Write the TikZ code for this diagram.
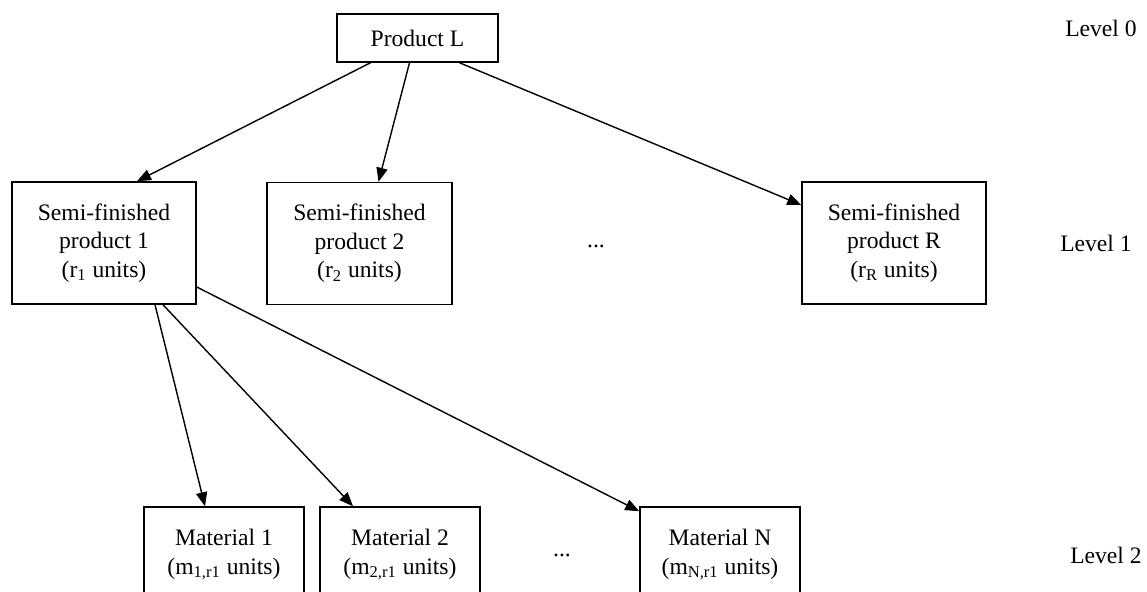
\documentclass[tikz,border=0pt]{standalone}
\usepackage{fontspec}
\setmainfont{Liberation Serif}
\usetikzlibrary{arrows.meta,calc}
\tikzset{
  box/.style={draw,line width=0.75pt,inner sep=0pt,align=center,font=\fontsize{11.8}{14.2}\selectfont},
  lbl/.style={inner sep=0pt,font=\fontsize{11.8}{14.2}\selectfont},
  conn/.style={line width=0.7pt,-{Triangle[length=7pt,width=5.6pt]}}
}
\begin{document}
\begin{tikzpicture}[x=0.5pt,y=-0.5pt]
\clip (0,0) rectangle (1147,592);
\fill[white] (0,0) rectangle (1147,592);
% level 0
\node[box,minimum width=80.5pt,minimum height=24pt] (PL) at (417.5,38) {Product L};
% level 1
\node[box,minimum width=92pt,minimum height=61pt] (S1) at (104,243) {Semi-finished\\product 1\\(r\textsubscript{1} units)};
\node[box,minimum width=92.5pt,minimum height=61pt] (S2) at (359.5,243.5) {Semi-finished\\product 2\\(r\textsubscript{2} units)};
\node[box,minimum width=92pt,minimum height=61pt] (SR) at (894,243) {Semi-finished\\product R\\(r\textsubscript{R} units)};
\node[lbl] (D1) at (596,246) {...};
% level 2
\node[box,minimum width=80pt,minimum height=48pt] (M1) at (224,555) {Material 1\\(m\textsubscript{1,r1} units)};
\node[box,minimum width=80pt,minimum height=48pt] (M2) at (400,555) {Material 2\\(m\textsubscript{2,r1} units)};
\node[box,minimum width=80pt,minimum height=48pt] (MN) at (720,555) {Material N\\(m\textsubscript{N,r1} units)};
\node[lbl] (D2) at (562,555) {...};
% level labels
\node[lbl] (L0) at (1101,28) {Level 0};
\node[lbl] (L1) at (1096,243) {Level 1};
\node[lbl] (L2) at (1106,555) {Level 2};
% connectors
\draw[conn] ($(PL.south)+(-47,0)$) -- ($(S1.north)+(33,0)$);
\draw[conn] ($(PL.south)+(-8,0)$) -- ($(S2.north)+(19,0)$);
\draw[conn] ($(PL.south)+(42,0)$) -- ($(SR.west)+(0,-38)$);
\draw[conn] ($(S1.south)+(51,0)$) -- ($(M1.north)+(-19,0)$);
\draw[conn] ($(S1.south)+(59,0)$) -- ($(M2.north)+(-47,0)$);
\draw[conn] ($(S1.east)+(0,44)$) -- ($(MN.north west)+(0,5)$);
\end{tikzpicture}
\end{document}
